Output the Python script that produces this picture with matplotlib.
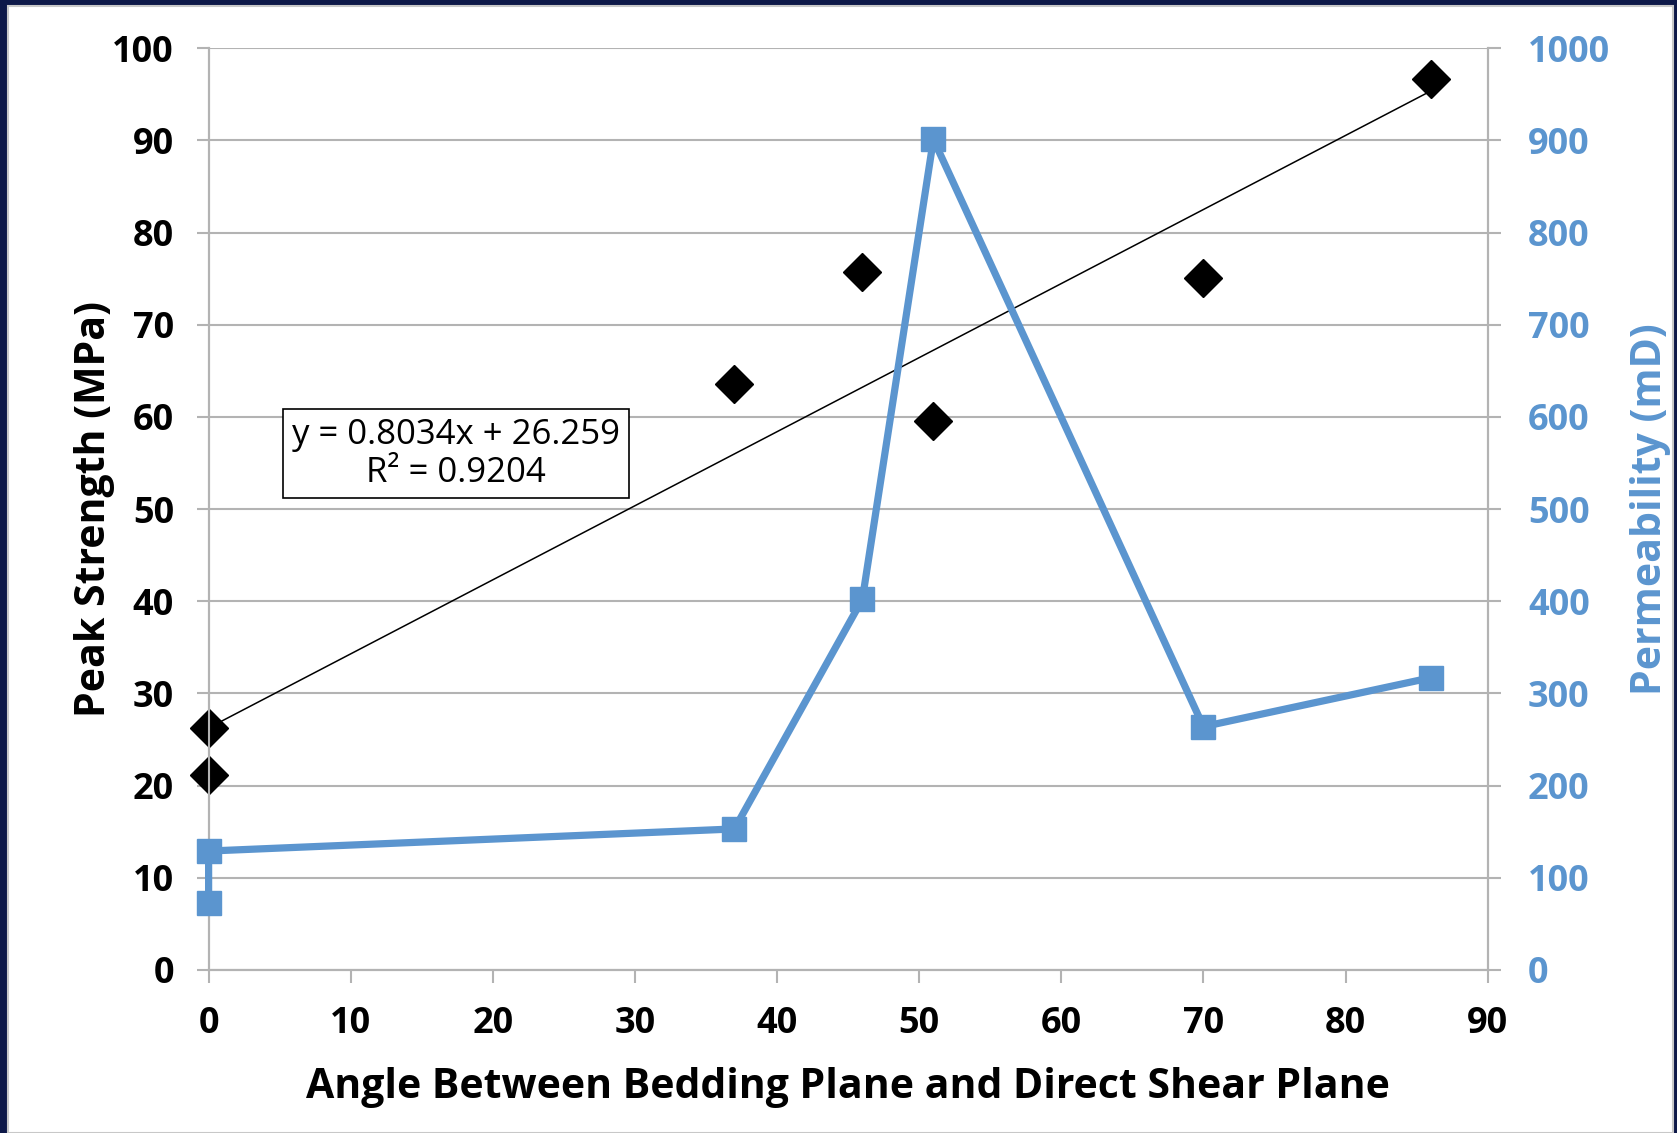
import matplotlib
matplotlib.use("Agg")
import matplotlib.pyplot as plt
from matplotlib.patches import Rectangle
import numpy as np

# Peak strength (left axis) vs. angle
angle_strength = [0, 0, 37, 46, 51, 70, 86]
peak_strength = [26.3, 21.2, 63.6, 75.7, 59.6, 75.1, 96.7]

# Permeability (right axis), drawn in this order as a line
angle_perm = [0, 0, 37, 46, 51, 70, 86]
permeability = [73, 129, 153, 402, 901, 264, 317]

# Linear trendline reported in the chart
TREND_SLOPE = 0.8034
TREND_INTERCEPT = 26.259
TREND_R2 = 0.9204

BLUE = "#5b95cf"
GRID = "#b3b3b3"
FONT = "Open Sans"

plt.rcParams["font.family"] = [FONT, "DejaVu Sans"]

fig = plt.figure(figsize=(16.77, 11.33), dpi=100)
fig.patch.set_facecolor("#0d1848")
# white slide panel
fig.add_artist(Rectangle((8 / 1677, 0), 1665 / 1677, 1 - 6 / 1133,
                         transform=fig.transFigure, facecolor="white",
                         edgecolor="#c8c8c8", linewidth=1.5, zorder=0))

ax = fig.add_axes([0.1244, 0.1439, 0.8871 - 0.1244, 0.9575 - 0.1439])
ax.set_facecolor("none")
ax2 = ax.twinx()

# trendline
xt = np.array([0, max(angle_strength)])
ax.plot(xt, TREND_SLOPE * xt + TREND_INTERCEPT, color="black",
        linewidth=1.1, zorder=3)
ax.plot(angle_strength, peak_strength, linestyle="none", marker="D",
        markersize=19, color="black", zorder=4, clip_on=False)

ax2.plot(angle_perm, permeability, color=BLUE, linewidth=5.2,
         marker="s", markersize=17, zorder=3, clip_on=False)

ax.set_xlim(0, 90)
ax.set_ylim(0, 100)
ax2.set_ylim(0, 1000)
ax.set_xticks(range(0, 91, 10))
ax.set_yticks(range(0, 101, 10))
ax2.set_yticks(range(0, 1001, 100))

ax.yaxis.grid(True, color=GRID, linewidth=1.5)
ax.set_axisbelow(True)
for a in (ax, ax2):
    for s in a.spines.values():
        s.set_color(GRID)
        s.set_linewidth(1.5)
    a.spines["top"].set_visible(False)
ax.tick_params(axis="x", direction="out", length=9, width=1.5,
               color=GRID, labelsize=26, pad=17)
ax.tick_params(axis="y", direction="out", length=9, width=1.5,
               color=GRID, labelsize=26, pad=16)
ax2.tick_params(axis="y", direction="out", length=9, width=1.5,
                color=GRID, labelsize=26, labelcolor=BLUE, pad=20)
for lab in ax.get_xticklabels() + ax.get_yticklabels():
    lab.set_fontweight("bold")
for lab in ax2.get_yticklabels():
    lab.set_fontweight("bold")

ax.set_xlabel("Angle Between Bedding Plane and Direct Shear Plane",
              fontsize=29.5, fontweight="bold", labelpad=18)
ax.set_ylabel("Peak Strength (MPa)", fontsize=29.5, fontweight="bold",
              labelpad=-2)
ax2.set_ylabel("Permeability (mD)", fontsize=29.5, fontweight="bold",
               color=BLUE, labelpad=14)

ax.text(17.4, 56.0,
        f"y = {TREND_SLOPE}x + {TREND_INTERCEPT}\nR² = {TREND_R2}",
        fontsize=25, ha="center", va="center", linespacing=1.15, zorder=6,
        bbox=dict(boxstyle="square,pad=0.25", facecolor="white",
                  edgecolor="black", linewidth=1.2))

fig.savefig("out.png", dpi=100, facecolor=fig.get_facecolor())
